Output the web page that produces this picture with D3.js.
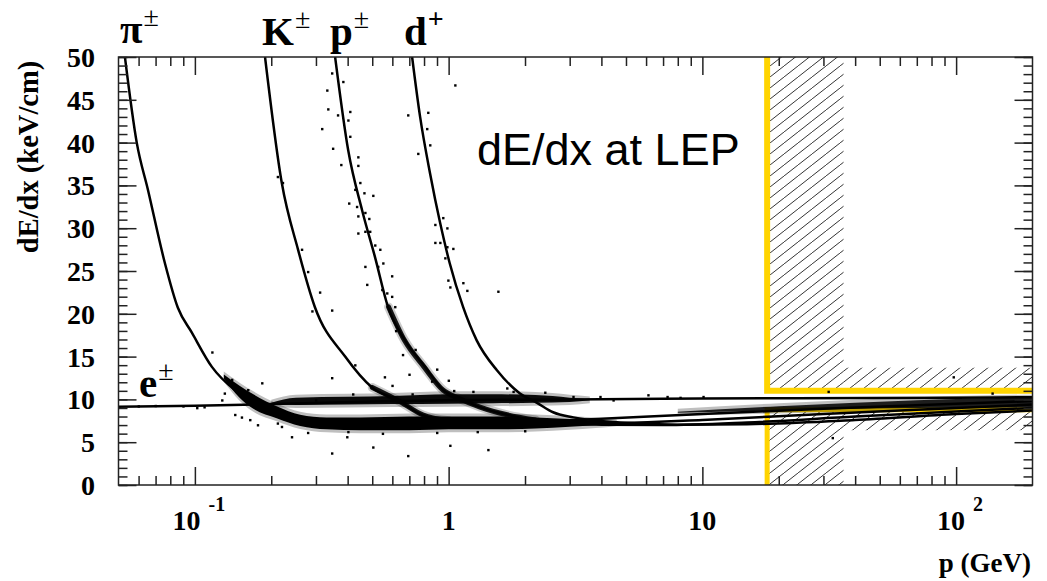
<!DOCTYPE html>
<html>
<head>
<meta charset="utf-8">
<script src="https://cdn.jsdelivr.net/npm/d3@7"></script>
<style>
  body { margin: 0; background: #fff; }
  svg { display: block; }
  .serif { font-family: "Liberation Serif", "Times New Roman", serif; font-weight: bold; }
</style>
</head>
<body>
<div class="main"></div>
<script>
// Curves (p in GeV, dE/dx in keV/cm)
let piCurve = [[0.053,50],[0.059,40],[0.0653,34.5],[0.0762,25.9],[0.0857,20.7],[0.0973,17.8],[0.1167,13.8],
  [0.1438,11.1],[0.1725,9.7],[0.207,8.4],[0.264,7.4],[0.4,7.05],[0.7,7.0],[1.5,7.2],[3,7.55],[10,8.3],[30,8.9],[100,9.5],[200,9.8]];
let kCurve = [[0.189,50],[0.220,35.3],[0.255,27.5],[0.297,20.8],[0.391,15.0],[0.499,11.4],[0.632,9.9],[0.786,8.2],
  [1.11,7.3],[1.8,7.0],[3,7.05],[10,7.6],[30,8.3],[100,9.0],[200,9.4]];
let pCurve = [[0.357,50],[0.402,39.1],[0.456,32.1],[0.513,26.6],[0.577,20.8],[0.673,16.9],[0.807,13.8],[0.951,11.1],
  [1.11,10.1],[1.33,9.1],[1.70,8.2],[2.15,7.6],[3.0,7.2],[4,7.05],[7,7.0],[15,7.3],[40,8.0],[100,8.6],[200,9.0]];
let dCurve = [[0.718,50],[0.772,43],[0.845,36.4],[0.926,30.6],[1.01,25.9],[1.14,20.8],[1.29,16.9],[1.55,13.4],
  [1.91,10.7],[2.23,9.6],[2.58,8.5],[3.1,7.9],[4.75,7.3],[8,7.05],[15,7.1],[40,7.6],[100,8.3],[200,8.7]];
let eCurve = [[0.05,9.15],[0.1,9.25],[0.2,9.45],[0.5,9.75],[1,9.9],[3,10.0],[10,10.1],[100,10.2],[200,10.25]];

// Dense bands of measured tracks: p, lower and upper edge
let lowBandP  = [0.13, 0.15, 0.17, 0.21, 0.26, 0.33, 0.45, 0.7, 1.0, 1.5, 2.2, 3.0, 3.8, 4.6];
let lowBandLo = [12.4, 10.2, 8.9, 7.8, 6.9, 6.5, 6.4, 6.4, 6.5, 6.5, 6.6, 6.8, 7.0, 7.25];
let lowBandHi = [12.9, 11.6, 10.6, 9.2, 8.2, 7.9, 7.9, 8.0, 8.0, 8.0, 7.9, 7.7, 7.5, 7.3];

let upBandP  = [0.2, 0.25, 0.4, 0.6, 1.0, 1.5, 2.2, 3.0, 3.6];
let upBandLo = [9.45, 9.35, 9.4, 9.45, 9.5, 9.55, 9.6, 9.7, 9.9];
let upBandHi = [9.6, 10.2, 10.3, 10.4, 10.6, 10.6, 10.5, 10.2, 10.0];

let highBandP  = [8, 20, 40, 70, 120, 200];
let highBandLo = [8.45, 8.7, 8.9, 9.0, 9.05, 9.1];
let highBandHi = [8.55, 9.2, 9.6, 9.9, 10.1, 10.2];

// Clouds along the proton and kaon curves
let protonCloud = [[0.58,20.8],[0.67,16.9],[0.8,13.8],[0.95,11.1],[1.1,10.1],[1.33,9.1],[1.7,8.2],[2.2,7.6]];
let kaonCloud = [[0.5,11.4],[0.63,9.9],[0.79,8.2],[1.0,7.5]];

// Isolated tracks
let scatter = [
  [0.347,48.1],[0.384,47.1],[0.332,46.1],[0.335,43.9],[0.366,43.2],[0.409,43.6],[0.402,42.6],[0.317,41.6],
  [0.409,40.7],[0.350,39.3],[0.440,38.3],[0.377,37.4],[0.440,37.3],[0.448,35.3],[0.428,34.5],[0.465,34.1],
  [0.504,33.8],[0.405,32.9],[0.435,32.5],[0.469,31.8],[0.486,31.1],[0.440,31.4],[0.469,29.6],[0.440,29.4],
  [0.490,29.6],[0.513,28.0],[0.537,27.5],[0.469,25.5],[0.527,25.5],[0.552,25.9],[0.598,24.4],[0.477,23.4],
  [0.547,22.8],[0.572,22.4],[0.598,22.0],[0.615,20.8],
  [0.212,36.0],[0.222,35.3],[0.264,27.5],[0.279,24.9],[0.311,22.5],[0.290,20.3],[0.347,20.4],
  [0.692,43.2],[0.830,43.5],[0.822,41.6],[0.845,39.7],[0.758,38.7],[0.885,30.4],[0.951,31.2],[0.987,30.0],
  [0.885,28.3],[0.926,28.3],[0.987,27.8],[0.969,26.5],[0.996,23.9],[1.014,23.1],[1.042,27.6],[1.141,23.6],
  [1.183,22.7],[1.568,22.6],[1.061,46.7],
  [0.117,15.5],[0.347,12.5],[0.428,14.0],[0.347,3.7],[0.504,4.4],[0.692,3.4],[0.241,5.6],[0.398,5.6],
  [0.102,9.0],[0.109,9.1],[1.014,4.6],[1.432,4.1],[6.12,10.5],[10.09,10.3],
  [31.4,10.9],[97.7,12.6],[139,10.7],[32.6,5.5],
  [0.128,9.9],[0.140,12.3],[0.131,10.7],[0.144,8.2],[0.153,7.9],[0.165,7.6],[0.177,7.0],[0.212,7.2],
  [0.220,6.8],[0.279,6.1],[0.402,6.2],[0.184,11.9],[0.162,11.1],
  [1.70,11.3],[3.10,10.3],[3.96,10.3],[4.46,9.9],[7.28,10.3],[8.19,10.2],
  [0.06,9.2],[0.07,9.25],[0.09,9.2],
  [0.66,15.2],[0.74,15.8],[0.62,18.0],[0.70,12.9],[0.86,12.1],[0.9,13.5],[1.0,12.2],[1.05,11.0],
  [0.56,12.6],[0.6,11.6],[0.72,10.6],[0.42,10.6],[0.3,9.9],[0.55,6.0],[0.9,6.1],[1.3,6.2],[2.0,6.3],
  [1.8,10.9],[2.4,10.8],[1.25,10.9]
];

// Selection window (LEP cuts)
let cutP = [18, 36];
let windowV = [8.8, 11.0];
let bandEdgeV = [6.4, 13.7];

// Axis ticks
let yMajor = [0, 5, 10, 15, 20, 25, 30, 35, 40, 45, 50];
let yMinor = d3.range(0, 51, 1);
let xMajor = [0.1, 1, 10, 100];
let xMinor = [0.06,0.07,0.08,0.09, 0.2,0.3,0.4,0.5,0.6,0.7,0.8,0.9, 2,3,4,5,6,7,8,9, 20,30,40,50,60,70,80,90];
let xLabelBase = ["10", "1", "10", "10"];
let xLabelExp = ["-1", "", "", "2"];

// Particle labels
let partName = ["\u03c0", "K", "p", "d", "e"];
let partSup = ["\u00b1", "\u00b1", "\u00b1", "+", "\u00b1"];

let width = 1047, height = 581;
let svg = d3.select("div.main").append("svg")
    .attr("width", width)
    .attr("height", height);

let x = d3.scaleLog().domain([0.05, 200]).range([118.5, 1032.5]);
let y = d3.scaleLinear().domain([0, 50]).range([485, 57]);

let defs = svg.append("defs");
defs.append("clipPath").attr("id", "plot")
  .append("rect")
    .attr("x", x(0.05)).attr("y", y(50))
    .attr("width", x(200) - x(0.05)).attr("height", y(0) - y(50));

// Hatching
let hatch = defs.append("pattern")
    .attr("id", "hatch")
    .attr("patternUnits", "userSpaceOnUse")
    .attr("width", 14).attr("height", 11);
hatch.append("path")
    .attr("d", "M-1,11.8 L15,-0.8")
    .attr("stroke", "#333")
    .attr("stroke-width", 1);

let g = svg.append("g").attr("clip-path", "url(#plot)");

// Hatched regions: the p strip and the two dE/dx bands beyond the cut
let hatchRects = [
  [cutP[0], cutP[1], windowV[1], 50],
  [cutP[0], cutP[1], 0, windowV[0]],
  [cutP[1], 200, windowV[1], bandEdgeV[1]],
  [cutP[1], 200, bandEdgeV[0], windowV[0]]
];
g.selectAll("rect.hatch").data(hatchRects).enter().append("rect")
    .attr("class", "hatch")
    .attr("x", d => x(d[0]))
    .attr("y", d => y(d[3]))
    .attr("width", d => x(d[1]) - x(d[0]))
    .attr("height", d => y(d[2]) - y(d[3]))
    .attr("fill", "url(#hatch)");

// Yellow cut lines
let yellow = "#ffd400";
g.append("path")
    .attr("d", "M" + x(cutP[0]) + "," + y(50) + "V" + y(windowV[1]) + "H" + x(200))
    .attr("fill", "none").attr("stroke", yellow).attr("stroke-width", 6);
g.append("path")
    .attr("d", "M" + x(cutP[0]) + "," + y(0) + "V" + y(windowV[0]) + "H" + x(200))
    .attr("fill", "none").attr("stroke", yellow).attr("stroke-width", 5);

// Bands: a faint halo for the fuzzy edge, then the dense core
let area = d3.area()
    .x(d => x(d[0]))
    .y0(d => y(d[1]))
    .y1(d => y(d[2]))
    .curve(d3.curveMonotoneX);

function band(ps, lo, hi, op) {
    g.append("path")
        .attr("d", area(ps.map((p, i) => [p, lo[i] - 0.35, hi[i] + 0.35])))
        .attr("fill", "#000")
        .attr("fill-opacity", 0.25);
    g.append("path")
        .attr("d", area(ps.map((p, i) => [p, lo[i], hi[i]])))
        .attr("fill", "#000")
        .attr("fill-opacity", op);
}
band(lowBandP, lowBandLo, lowBandHi, 1);
band(upBandP, upBandLo, upBandHi, 0.95);
band(highBandP, highBandLo, highBandHi, 0.85);

let line = d3.line()
    .x(d => x(d[0]))
    .y(d => y(d[1]))
    .curve(d3.curveMonotoneX);

function cloud(pts, w) {
    g.append("path").attr("d", line(pts))
        .attr("fill", "none").attr("stroke", "#000").attr("stroke-width", w + 4)
        .attr("stroke-linecap", "round").attr("stroke-opacity", 0.2);
    g.append("path").attr("d", line(pts))
        .attr("fill", "none").attr("stroke", "#000").attr("stroke-width", w)
        .attr("stroke-linecap", "round").attr("stroke-opacity", 0.9);
}
cloud(protonCloud, 5);
cloud(kaonCloud, 5);

// Isolated tracks
g.selectAll("rect.dot").data(scatter).enter().append("rect")
    .attr("class", "dot")
    .attr("x", d => x(d[0]) - 1)
    .attr("y", d => y(d[1]) - 1)
    .attr("width", 2.4).attr("height", 2.4)
    .attr("fill", "#000");

// Expected curves
[piCurve, kCurve, pCurve, dCurve, eCurve].forEach(function(c) {
    g.append("path")
        .attr("d", line(c))
        .attr("fill", "none")
        .attr("stroke", "#000")
        .attr("stroke-width", 2.5);
});

// Ticks on all four sides (inward)
let frameColor = "#222";
function ticks(axis, pos) {
    let a = svg.append("g").attr("transform", pos).call(axis);
    a.select(".domain").remove();
    a.selectAll("line").attr("stroke", frameColor).attr("stroke-width", 1.5);
    a.selectAll("text").remove();
}
ticks(d3.axisLeft(y).tickValues(yMinor).tickSize(-9), "translate(" + x(0.05) + ",0)");
ticks(d3.axisLeft(y).tickValues(yMajor).tickSize(-18), "translate(" + x(0.05) + ",0)");
ticks(d3.axisRight(y).tickValues(yMinor).tickSize(-9), "translate(" + x(200) + ",0)");
ticks(d3.axisRight(y).tickValues(yMajor).tickSize(-18), "translate(" + x(200) + ",0)");
ticks(d3.axisBottom(x).tickValues(xMinor).tickSize(-9), "translate(0," + y(0) + ")");
ticks(d3.axisBottom(x).tickValues(xMajor).tickSize(-18), "translate(0," + y(0) + ")");
ticks(d3.axisTop(x).tickValues(xMinor).tickSize(-9), "translate(0," + y(50) + ")");
ticks(d3.axisTop(x).tickValues(xMajor).tickSize(-18), "translate(0," + y(50) + ")");

// Frame
svg.append("rect")
    .attr("x", x(0.05)).attr("y", y(50))
    .attr("width", x(200) - x(0.05)).attr("height", y(0) - y(50))
    .attr("fill", "none").attr("stroke", frameColor).attr("stroke-width", 1.5);

// Y tick labels
svg.selectAll("text.ylab").data(yMajor).enter().append("text")
    .attr("class", "ylab serif")
    .attr("x", 95)
    .attr("y", d => y(d) + 10)
    .attr("text-anchor", "end")
    .attr("font-size", 28)
    .text(d => d);

// X tick labels (10^n style)
xMajor.forEach(function(v, i) {
    let t = svg.append("text")
        .attr("class", "serif")
        .attr("x", x(v) + (xLabelExp[i] ? 4 : 0))
        .attr("y", 530)
        .attr("text-anchor", "middle")
        .attr("font-size", 28);
    t.append("tspan").text(xLabelBase[i]);
    if (xLabelExp[i]) {
        t.append("tspan").attr("dx", 8).attr("dy", -19)
            .attr("font-size", 20).text(xLabelExp[i]);
    }
});

// Axis titles
svg.append("text")
    .attr("class", "serif")
    .attr("transform", "translate(38,157) rotate(-90)")
    .attr("text-anchor", "middle")
    .attr("font-size", 28.5)
    .text("dE/dx (keV/cm)");

svg.append("text")
    .attr("class", "serif")
    .attr("x", 1031).attr("y", 572)
    .attr("text-anchor", "end")
    .attr("font-size", 27)
    .text("p (GeV)");

// Particle labels
let partX = [120, 262, 330, 404, 139];
let partY = [43, 45, 45, 45, 397];
partName.forEach(function(n, i) {
    let t = svg.append("text")
        .attr("class", "serif")
        .attr("x", partX[i]).attr("y", partY[i])
        .attr("font-size", 41);
    t.append("tspan").text(n);
    t.append("tspan").attr("dy", -17).attr("dx", 1)
        .attr("font-size", 28)
        .attr("font-weight", partSup[i] == "+" ? "bold" : "normal")
        .text(partSup[i]);
});

// Title
svg.append("text")
    .attr("x", 477).attr("y", 165)
    .attr("font-family", "Liberation Sans, Arial, sans-serif")
    .attr("font-size", 45)
    .text("dE/dx at LEP");
</script>
</body>
</html>
